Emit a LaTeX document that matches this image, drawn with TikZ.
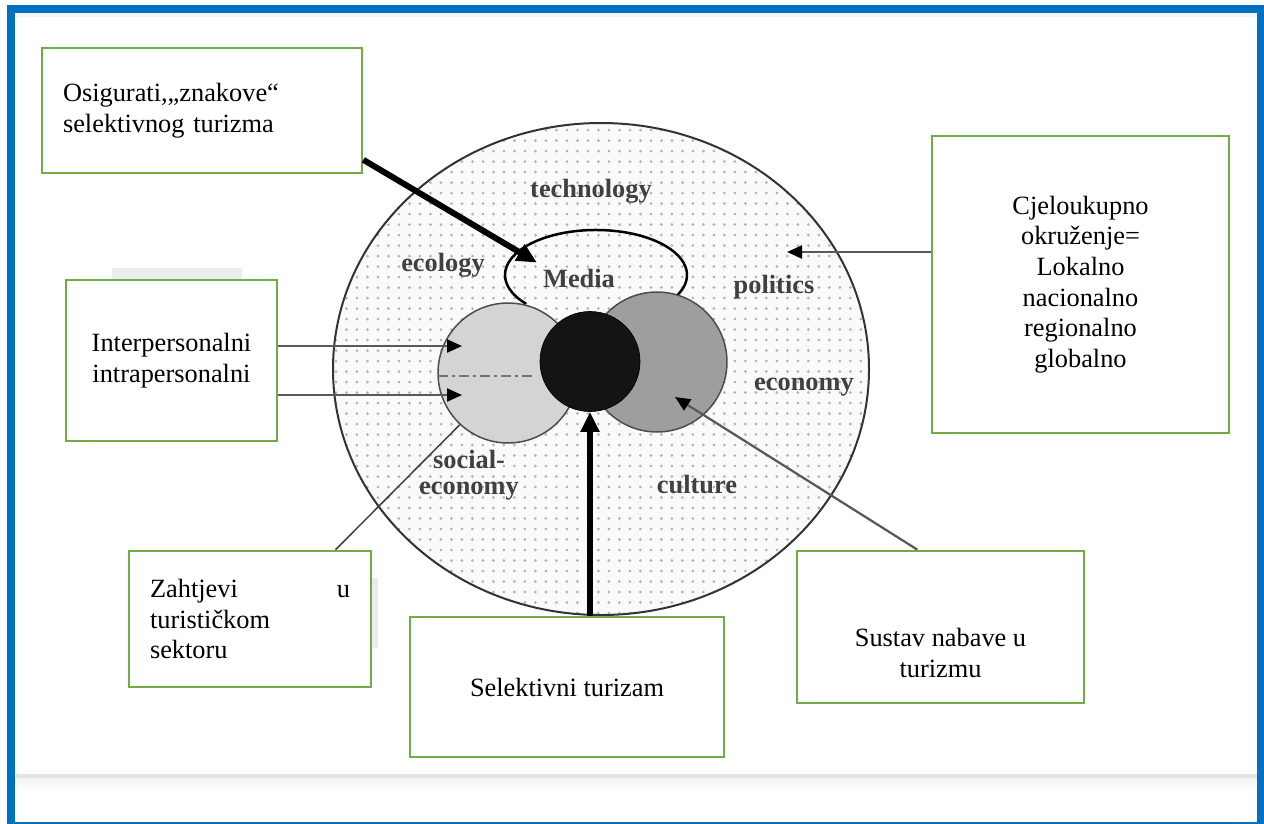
\documentclass[tikz,border=0pt]{standalone}
\usepackage{fontspec}
\setmainfont{Liberation Serif}
\usetikzlibrary{arrows.meta,patterns.meta,calc}
\definecolor{frameblue}{RGB}{0,112,192}
\definecolor{boxgreen}{RGB}{112,173,71}
\tikzset{
  box/.style={draw=boxgreen, line width=0.055cm, fill=white, align=center, inner sep=0pt,
    font=\fontsize{15}{17.4}\selectfont},
  field/.style={font=\fontsize{15}{15}\selectfont\bfseries, text=black!75},
  feed/.style={line width=0.045cm, black!65, -{Triangle[length=0.3cm,width=0.26cm,color=black]}},
  push/.style={line width=0.12cm, black, -{Triangle[length=0.4cm,width=0.36cm]}},
}
\begin{document}
\begin{tikzpicture}[x=0.02cm,y=-0.02cm]
\useasboundingbox (0,0) rectangle (1264,823);
\fill[white] (0,0) rectangle (1264,823);
\fill[black!4] (15,13) rectangle (1257,17);
\fill[black!11] (15,774) rectangle (1257,778);
\shade[top color=black!5, bottom color=white] (15,778) rectangle (1257,792);
% shadows behind the boxes
\fill[black!7] (112,268) rectangle (242,281);
\fill[black!8] (371,578) rectangle (378,648);
% environment
\fill[black!2] (601,369) ellipse [x radius=268, y radius=246];
\path[pattern={Dots[distance=0.21cm, radius=0.03cm]}, pattern color=black!30] (601,369) ellipse [x radius=268, y radius=246];
\draw[line width=0.04cm, black!80] (601,369) ellipse [x radius=268, y radius=246];
\draw[line width=0.05cm] (526.3,303.9) arc [start angle=140, end angle=395, x radius=91, y radius=45];
\node[circle, draw=black!70, line width=0.03cm, fill=black!17, minimum size=2.8cm, inner sep=0pt] (lc) at (508,373) {};
\node[circle, draw=black!70, line width=0.03cm, fill=black!38, minimum size=2.8cm, inner sep=0pt] (rc) at (657,362) {};
\node[circle, draw=black, fill=black!92, minimum size=2cm, inner sep=0pt] (core) at (590,361.5) {};
\draw[black!55, line width=0.04cm, dash pattern=on 0.2cm off 0.08cm on 0.06cm off 0.08cm] (438,376) -- (533,376);
\node[field] (tech) at (591,191) {technology};
\node[field] (ecol) at (443,265) {ecology};
\node[field] (media) at (579,278) {Media};
\node[field] (polit) at (774,287) {politics};
\node[field] (econ) at (804,387) {economy};
\node[field, align=center] (soceco) at (469,475) {social-\\economy};
\node[field] (cult) at (697,485) {culture};
% boxes
\node[box, minimum width=6.4cm, minimum height=2.5cm, text width=5.56cm, align=left] (osig) at (202,110.5) {Osigurati,„znakove“\\selektivnog turizma};
\node[box, minimum width=4.22cm, minimum height=3.22cm] (inter) at (171.5,360.5) {Interpersonalni\\intrapersonalni};
\node[box, minimum width=5.94cm, minimum height=5.94cm] (cjelo) at (1080.5,284.5) {Cjeloukupno\\okruženje=\\Lokalno\\nacionalno\\regionalno\\globalno};
\node[box, minimum width=4.84cm, minimum height=2.72cm, text width=4cm, align=left] (zaht) at (250,619) {Zahtjevi\hfill u\\turističkom\\sektoru};
\node[box, minimum width=6.28cm, minimum height=2.8cm] (sel) at (567,687) {Selektivni turizam};
\node[box, minimum width=5.74cm, minimum height=3.04cm] (sustav) at (940.5,627) {};
\node[font=\fontsize{15}{17.4}\selectfont, align=center] (sustavtext) at (940.5,653) {Sustav nabave u\\turizmu};
% connectors
\coordinate (envtip) at (787,252);
\coordinate (intertipA) at (462,346);
\coordinate (intertipB) at (462,395);
\coordinate (proctip) at (675,397);
\draw[feed] (cjelo.west |- envtip) -- (envtip);
\draw[feed] (inter.east |- intertipA) -- (intertipA);
\draw[feed] (inter.east |- intertipB) -- (intertipB);
\draw[push] (osig.-17) -- (media.north west);
\draw[push] (sel.north -| core.south) -- (core.south);
\draw[feed] ($(sustav.north west)!0.42!(sustav.north east)$) -- (proctip);
\draw[line width=0.03cm, black!75] ($(zaht.north west)!0.85!(zaht.north east)$) -- (lc.227);
\draw[frameblue, line width=0.16cm] (11,9) rectangle (1261,826);
\end{tikzpicture}
\end{document}
